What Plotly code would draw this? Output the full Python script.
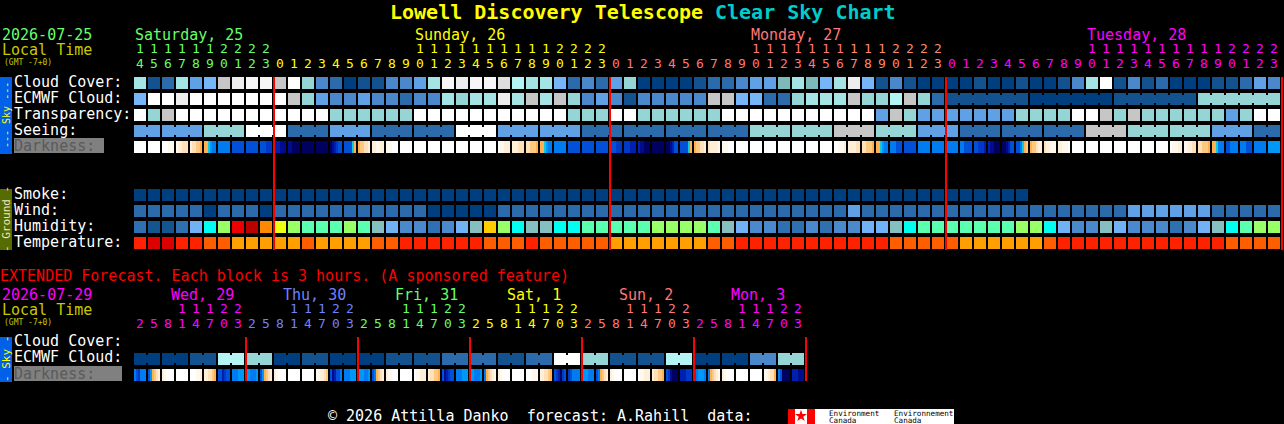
import plotly.graph_objects as go

###############################################################################
# values, one letter per hourly block

cloud_cover = list("GBCGEFJLVV" "JWHDCABBDD" "EGVLVVKTGG" "FCDCEHAAAA" "BCCDEEIGIF"
                   "GLFBDBAAAA" "BAABAABDGW" "BDBCAAABBC" "ED")
ecmwf_cloud = list("FWWLWWWWWW" "WJHEDDEDDC" "DDGHGGLGJG" "JHDEDBDDDD" "DJJFFCCHGG"
                   "GJHHTJHCBB" "BBBBAAAAAA" "BBBBBBHHHH" "HH")
transparency = list("WHJWWWWWWW" "WWWWHHHHHH" "WWWWWWWWWW" "WHHHWWHHHH" "HHWWWWWWWW"
                    "WWWEJHEEEE" "EEEHHHHWWJ" "HJHHHHHHEH" "WW")
seeing = list("EEEEEHHHWW" "WCCCEEECCC" "CCCWWWEEEE" "EECCCCCCCC" "CCCCHHHHHH"
              "JJJHHHEEEC" "CCCCCCCCJJ" "JHHHHHHEEE" "CC")
smoke = list("AAAAAAAAAA" "AAAAAAAAAA" "AAAAAAAAAA" "AAAAAAAAAA" "AAAAAAAAAA"
             "AAAAAAAAAA" "AAAA")
wind = list("CCCCCACCCA" "CCCCCCCCCC" "CAAAAACCCC" "CCCCCCCCCC" "CCCCCCCCCC"
            "CECCCCCCCC" "CCCCCCCCCC" "CEEEEEECCC" "CC")
humidity = list("CBBCFclrdo" "ylmmmlmqFD" "DCDFqglcqq" "ccmmmmmlll" "lmqFDDCCDC"
                "DDFFqcmmmm" "mmmllcFDDq" "FDDDCDFqcm" "ll")
temperature = list("RSSRROOPPP" "PPOPPPPOOR" "RRRRROOORO" "OOOOPPPPPP" "POORRRRRRR"
                   "RRRROOOOOP" "PPPPPORRRR" "RRRRRRRROO" "OO")

# darkness changes inside a block, so six readings per block
darkness = [
    "aaaaaa", "aaaaaa", "aaabbb", "bccddd", "cddeef", "ffghii", "iiiiii", "jjjjjj", "jjjjjj", "jjjkkk",
    "lllmmm", "mmnnnn", "nnnnnn", "nnnnnn", "nmlkjj", "jjjjgf", "feeddc", "ccbbcc", "bbbaaa", "aaaaaa",
    "aaaaaa", "aaaaaa", "aaaaaa", "aaaaaa", "aaaaaa", "aaaaaa", "abbccc", "cccddd", "ddeeef", "ffghii",
    "iiiiii", "jjjjjj", "jjjjjj", "jjjjjj", "jjjkkk", "kkklll", "lmmnnn", "nnnnnn", "nnmljj", "jjjjgf",
    "feeddc", "dccccb", "bbbaaa", "aaaaaa", "aaaaaa", "aaaaaa", "aaaaaa", "aaaaaa", "aaaaaa", "aaaaaa",
    "aabbbc", "ccccdd", "ddeeef", "ffghii", "iiijjj", "jjjjjj", "iiiiii", "iiiiii", "iiiiii", "iijjjj",
    "jjkkkl", "lmmnnn", "nnmljj", "jjigfe", "feedcc", "dccbbb", "ccbbba", "aaaaaa", "aaaaaa", "aaaaaa",
    "aaaaaa", "aaaaaa", "aaaaaa", "aaaaaa", "abbbcc", "bbccdd", "ddeeef", "ffgiii", "jjiiii", "iiijjj",
    "iiiiii", "hhhhhh",
]

# extended forecast: one cloud letter per 6 hours, darkness per 3 hour block
ext_ecmwf = list("AABTHABAABBCCBCWHBBTAADH")
ext_darkness = [
    "ijkiii", "jhfedc", "cbaaaa", "aaaaaa", "aaabbc", "ccddef", "jjlkjj", "iiihhh",
    "hhiiih", "jhfedc", "cbaaaa", "aaaaaa", "aaaaaa", "bbccde", "jmljji", "iiihhh",
    "hhhiih", "jifedc", "cbbaaa", "aaaaaa", "abbccc", "cddeef", "jmlkjj", "iiihhh",
    "hhiiih", "ifedcb", "cbaaaa", "aaaaaa", "aaabbb", "ccddef", "jklnkj", "kjiiii",
    "hhhiii", "jifedc", "cbaaaa", "aaaaaa", "abbccc", "cddeef", "jkmnnn", "lllkkk",
    "jihhhi", "ifedcb", "cbaaaa", "aaaaaa", "aaaaaa", "bbcddf", "ijnnnn", "lllmmm",
]

hours = [14, 15, 16, 17, 18, 19, 20, 21, 22, 23] + list(range(24)) + list(range(24)) + list(range(24))
ext_hours = [2, 5, 8, 11, 14, 17, 20, 23] * 6

day_edges = [10, 34, 58, 82]
ext_day_edges = [8, 16, 24, 32, 40, 48]

days = ["Saturday, 25", "Sunday, 26", "Monday, 27", "Tuesday, 28"]
ext_days = ["Wed, 29", "Thu, 30", "Fri, 31", "Sat, 1", "Sun, 2", "Mon, 3"]

###############################################################################

CLOUD_COLORS = {
    'A': '#003F7F', 'B': '#13528F', 'C': '#2C6BAB', 'D': '#4A88CB', 'E': '#60A1E6', 'F': '#76B5F8',
    'G': '#A5E4E4', 'H': '#95D5D5', 'I': '#7DBBBB', 'J': '#C6C6C6', 'K': '#DEDEDE', 'L': '#EDEDED',
    'T': '#B4F4F4', 'V': '#F6F6F6', 'W': '#FFFFFF',
}
HUMID_COLORS = {
    'B': '#15558F', 'C': '#2F70B0', 'D': '#4A8ACC', 'F': '#70B2F5', 'q': '#85BFBF', 'c': '#00FFF0',
    'm': '#5AFFB0', 'l': '#99FF66', 'y': '#EEFF11', 'g': '#FFCC00', 'o': '#FF8800', 'r': '#EE0000',
    'd': '#BB0000',
}
TEMP_COLORS = {'R': '#FF2200', 'S': '#DD0000', 'O': '#FF5E00', 'P': '#FFA000'}
DARK_COLORS = {
    'a': '#FFFFFF', 'b': '#FFF8EE', 'c': '#FFEFD8', 'd': '#FFE0B8', 'e': '#FFC880', 'f': '#FFB050',
    'g': '#10C8E0', 'h': '#0098F8', 'i': '#007CF0', 'j': '#0050D8', 'k': '#0038C8', 'l': '#0020B0',
    'm': '#000C90', 'n': '#000060', 'o': '#000040',
}

FONT = "DejaVu Sans Mono"
X0 = 140   # centre of the first block
CELL = 14

GREEN = '#66FF66'
YELLOW = '#FFFF00'
OLIVE = '#C8C800'
SALMON = '#FF7777'
MAGENTA = '#FF00FF'
PERI = '#7080FF'

fig = go.Figure()


def add_row(values, palette, y, height=12, x0=X0, xgap=2):
    # letters to palette positions, with a stepped colorscale
    keys = list(palette.keys())
    n = len(keys)
    scale = []
    for i, k in enumerate(keys):
        scale.append([i / n, palette[k]])
        scale.append([(i + 1) / n, palette[k]])
    z = [keys.index(v) + 0.5 if v is not None else None for v in values]
    fig.add_trace(go.Heatmap(z=[z], x0=x0, dx=CELL, y0=y, dy=height, xgap=xgap,
                             colorscale=scale, zmin=0, zmax=n, showscale=False, hoverinfo='skip'))


def add_joined_row(values, is_joined, palette, y):
    add_row(values, palette, y)
    # short connectors over the gaps inside a joined group
    links = [values[i] if is_joined(i) and i + 1 < len(values) else None for i in range(len(values))]
    add_row(links, palette, y, height=8, x0=X0 + CELL / 2, xgap=CELL - 2)


def add_darkness(blocks, y):
    keys = list(DARK_COLORS.keys())
    n = len(keys)
    scale = []
    for i, k in enumerate(keys):
        scale.append([i / n, DARK_COLORS[k]])
        scale.append([(i + 1) / n, DARK_COLORS[k]])
    z = []
    for block in blocks:
        z += [keys.index(c) + 0.5 for c in block]
        z.append(None)
    fig.add_trace(go.Heatmap(z=[z], x0=X0 - 5, dx=CELL / 7, y0=y, dy=12,
                             colorscale=scale, zmin=0, zmax=n, showscale=False, hoverinfo='skip'))


def label(x, y, text, color='#FFFFFF', size=15, bold=False, angle=0, anchor='left'):
    fig.add_annotation(x=x, y=y, text=f"<b>{text}</b>" if bold else text, showarrow=False,
                       xanchor=anchor, yanchor='middle', textangle=angle,
                       xshift=-1 if anchor == 'left' else 0, borderpad=0,
                       font=dict(family=FONT, size=size, color=color))


def rect(x0, y0, x1, y1, color):
    fig.add_shape(type='rect', x0=x0, y0=y0, x1=x1, y1=y1, fillcolor=color,
                  line=dict(width=0), layer='below')


def add_digits(values, colors, y_tens, y_units):
    x = [X0 + CELL * i for i in range(len(values))]
    tens = [str(v // 10) if v >= 10 else '' for v in values]
    units = [str(v % 10) for v in values]
    for y, text in ((y_tens, tens), (y_units, units)):
        fig.add_trace(go.Scatter(x=x, y=[y] * len(x), mode='text', text=text, textposition='middle center',
                                 textfont=dict(family=FONT, size=13, color=colors), hoverinfo='skip'))


def add_edges(edges, y0, y1):
    xs, ys = [], []
    for e in edges:
        xs += [X0 + CELL * e - 6, X0 + CELL * e - 6, None]
        ys += [y0, y1, None]
    fig.add_trace(go.Scatter(x=xs, y=ys, mode='lines', line=dict(color='#FF0000', width=2), hoverinfo='skip'))


# side bars and grey label boxes first
rect(0, 77, 12, 154, '#0060E8')
rect(0, 189, 12, 250, '#566B00')
rect(0, 337, 12, 382, '#0060E8')
rect(14, 138, 104, 153, '#808080')
rect(14, 366, 122, 381, '#808080')

# hourly chart
add_row(cloud_cover, CLOUD_COLORS, 83)
add_joined_row(ecmwf_cloud, lambda i: i >= 58 and (i + 1 - 58) % 6 != 0, CLOUD_COLORS, 99)
add_row(transparency, CLOUD_COLORS, 115)
add_joined_row(seeing, lambda i: (i + 1) % 3 != 2, CLOUD_COLORS, 131)
add_darkness(darkness, 147)
add_row(smoke, CLOUD_COLORS, 195)
add_row(wind, CLOUD_COLORS, 211)
add_row(humidity, HUMID_COLORS, 227)
add_row(temperature, TEMP_COLORS, 243)
add_edges(day_edges, 77, 250)

# extended chart
ext_row = []
for v in ext_ecmwf:
    ext_row += [v, v]
add_joined_row(ext_row, lambda i: i % 2 == 0, CLOUD_COLORS, 359)
add_darkness(ext_darkness, 375)
add_edges(ext_day_edges, 337, 381)

# hour digits, colour follows the day
hour_colors = ([GREEN] * 10 + [YELLOW] * 24 + [SALMON] * 17 + ['#FF8866'] * 7 + [MAGENTA] * 24)
add_digits(hours, hour_colors, 50, 65)
ext_colors = []
for c in (MAGENTA, PERI, GREEN, YELLOW, SALMON, MAGENTA):
    ext_colors += [c] * 8
add_digits(ext_hours, ext_colors, 310, 325)

# title
label(390, 12, "Lowell Discovery Telescope", YELLOW, 20, bold=True)
label(715, 12, "Clear Sky Chart", '#00CCCC', 20, bold=True)

# left header
label(2, 35, "2026-07-25", GREEN)
label(2, 50, "Local Time", OLIVE)
label(4, 62, "(GMT -7+0)", OLIVE, 8)
for x, text, color in zip((135, 415, 751, 1087), days, (GREEN, YELLOW, SALMON, MAGENTA)):
    label(x, 35, text, color)

for y, text in ((82, "Cloud Cover:"), (98, "ECMWF Cloud:"), (114, "Transparency:"), (130, "Seeing:"),
                (194, "Smoke:"), (210, "Wind:"), (226, "Humidity:"), (242, "Temperature:")):
    label(14, y, text)
label(14, 146, "Darkness:", '#5A5A5A')

label(6, 115, "--- Sky ---", YELLOW, 10, angle=-90, anchor='center')
label(6, 219, "- Ground -", '#E8E8C0', 11, angle=-90, anchor='center')

# extended header
label(0, 276, "EXTENDED Forecast. Each block is 3 hours. (A sponsored feature)", '#FF0000')
label(2, 295, "2026-07-29", MAGENTA)
label(2, 310, "Local Time", OLIVE)
label(4, 322, "(GMT -7+0)", OLIVE, 8)
for x, text, color in zip((171, 283, 395, 507, 619, 731), ext_days,
                          (MAGENTA, PERI, GREEN, YELLOW, SALMON, MAGENTA)):
    label(x, 295, text, color)

label(14, 341, "Cloud Cover:")
label(14, 357, "ECMWF Cloud:")
label(14, 374, "Darkness:", '#5A5A5A')
label(6, 359, "- Sky -", YELLOW, 11, angle=-90, anchor='center')

# footer and logo
label(328, 416, "© 2026 Attilla Danko  forecast: A.Rahill  data:")
rect(788, 409, 954, 424, '#FFFFFF')
rect(788, 409, 795, 424, '#FF0000')
rect(807, 409, 815, 424, '#FF0000')
fig.add_trace(go.Scatter(x=[801], y=[416], mode='markers', hoverinfo='skip',
                         marker=dict(symbol='star', size=9, color='#FF0000')))
label(829, 413, "Environment", '#000000', 7.6)
label(829, 420, "Canada", '#000000', 7.6)
label(894, 413, "Environnement", '#000000', 7.6)
label(894, 420, "Canada", '#000000', 7.6)

fig.update_xaxes(range=[0, 1284], visible=False, fixedrange=True)
fig.update_yaxes(range=[424, 0], visible=False, fixedrange=True)
fig.update_layout(width=1284, height=424, margin=dict(l=0, r=0, t=0, b=0), showlegend=False,
                  paper_bgcolor='#000000', plot_bgcolor='#000000')

fig.write_html("out.html", config={'displayModeBar': False},
               post_script="document.body.style.margin='0';document.body.style.background='#000';"
                           "document.documentElement.style.overflow='hidden';")
